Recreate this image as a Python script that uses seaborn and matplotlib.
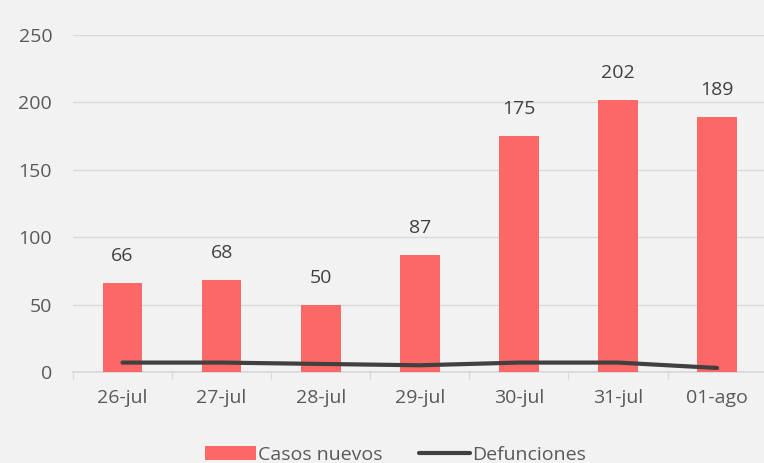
import matplotlib
matplotlib.use("Agg")
import matplotlib.pyplot as plt
import seaborn as sns
import pandas as pd
import numpy as np

fechas = ["26-jul", "27-jul", "28-jul", "29-jul", "30-jul", "31-jul", "01-ago"]
casos_nuevos = [66, 68, 50, 87, 175, 202, 189]
defunciones = [7, 7, 6, 5, 7, 7, 3]

sns.set_theme(style="white")
plt.rcParams['font.family'] = ['Open Sans', 'DejaVu Sans']

bg = "#f2f2f2"
fs = 14
fig = plt.figure(figsize=(7.64, 4.63), dpi=100, facecolor=bg)
ax = fig.add_axes([0.0955, 0.1965, 0.908, 0.728])
ax.set_facecolor(bg)

df = pd.DataFrame({"fecha": fechas, "casos": casos_nuevos})
sns.barplot(data=df, x="fecha", y="casos", color="#FC6868", width=0.40,
            saturation=1, ax=ax, label="Casos nuevos", zorder=3, linewidth=0)
sns.lineplot(x=np.arange(len(fechas)), y=defunciones, color="#404040", lw=3,
             ax=ax, label="Defunciones", zorder=4)

for i, v in enumerate(casos_nuevos):
    ax.text(i, v + 20, str(v), ha="center", va="center", fontsize=fs, color="#404040")

ax.set_ylim(0, 250)
ax.set_xlim(-0.5, len(fechas) - 0.5)
ax.set_yticks(range(0, 251, 50))
ax.yaxis.grid(True, color="#d9d9d9", lw=1, zorder=0)
ax.set_axisbelow(True)
for s in ["top", "right", "left"]:
    ax.spines[s].set_visible(False)
ax.spines["bottom"].set_color("#d9d9d9")
ax.set_xlabel("")
ax.set_ylabel("")
ax.tick_params(axis="both", labelsize=fs, labelcolor="#595959", length=0)
ax.tick_params(axis="x", pad=12)
ax.tick_params(axis="y", pad=15)
ax.set_xticks(np.arange(-0.5, len(fechas), 1), minor=True)
ax.tick_params(axis="x", which="minor", length=5, color="#d9d9d9", bottom=True)

handles, labels = ax.get_legend_handles_labels()
order = [labels.index("Casos nuevos"), labels.index("Defunciones")]
ax.legend([handles[i] for i in order], [labels[i] for i in order],
          loc="center", bbox_to_anchor=(0.465, -0.245), ncol=2, frameon=False,
          fontsize=fs, labelcolor="#595959", handlelength=2.6, columnspacing=1.9,
          handletextpad=0.1)

fig.savefig("out.png", dpi=100, facecolor=bg)
